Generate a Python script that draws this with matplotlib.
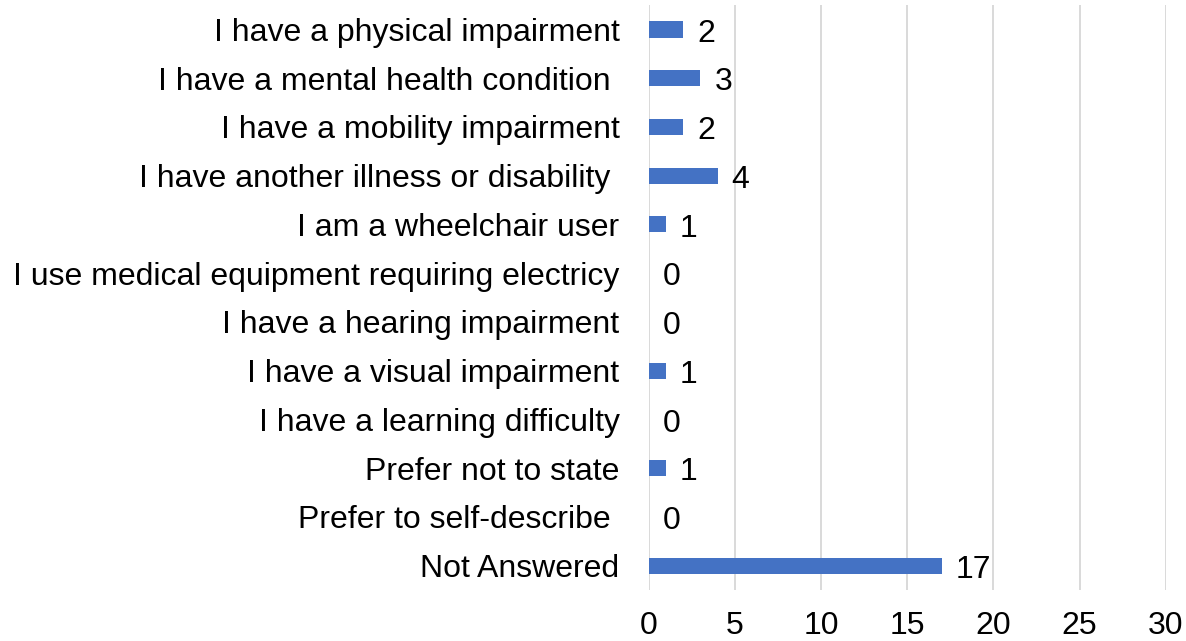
import matplotlib.pyplot as plt

# Responses by disability / condition
categories = ["I have a physical impairment",
              "I have a mental health condition ",
              "I have a mobility impairment",
              "I have another illness or disability ",
              "I am a wheelchair user",
              "I use medical equipment requiring electricy",
              "I have a hearing impairment",
              "I have a visual impairment",
              "I have a learning difficulty",
              "Prefer not to state",
              "Prefer to self-describe ",
              "Not Answered"]
counts = [2, 3, 2, 4, 1, 0, 0, 1, 0, 1, 0, 17]
xticks = [0, 5, 10, 15, 20, 25, 30]

plt.rcParams['font.family'] = ['Liberation Sans', 'DejaVu Sans']
fs = 23

fig = plt.figure(figsize=(11.86, 6.41), dpi=100)
ax = fig.add_axes([0.547, 0.0796, 0.983 - 0.547, 0.992 - 0.0796])

pos = range(len(categories))
ax.barh(pos, counts, height=0.33, color='#4472C4', zorder=3)
for i, v in zip(pos, counts):
    ax.annotate(str(v), (v, i), xytext=(10, -3), textcoords='offset points',
                va='center', ha='left', fontsize=fs, color='#000000')

ax.set_ylim(-0.5, len(categories) - 0.5)
ax.invert_yaxis()
ax.set_xlim(0, 30)
ax.set_xticks(xticks)
ax.set_yticks(list(pos))
ax.set_yticklabels(categories)
ax.tick_params(axis='y', length=0, pad=21, labelsize=fs)
ax.tick_params(axis='x', length=0, pad=15, labelsize=fs)
ax.xaxis.grid(True, color='#D9D9D9', linewidth=1.4, zorder=0)
for s in ax.spines.values():
    s.set_visible(False)

fig.savefig('out.png', dpi=100, facecolor='w')
